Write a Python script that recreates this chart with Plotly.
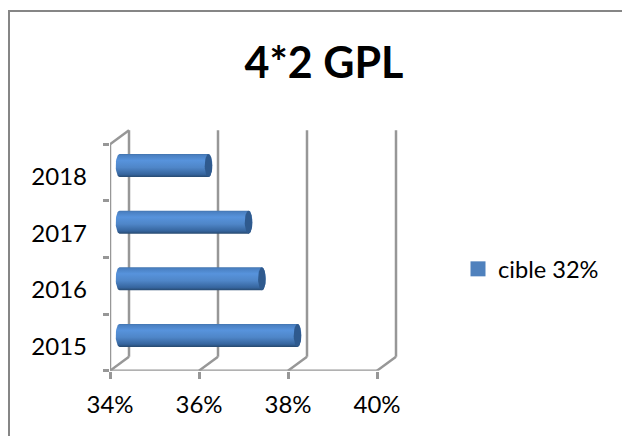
import numpy as np
import plotly.graph_objects as go

# Chart data
years = ["2015", "2016", "2017", "2018"]
values = [38.0, 37.2, 36.9, 36.0]
x_ticks = [34, 36, 38, 40]
x_tick_labels = ["34%", "36%", "38%", "40%"]
series_name = "cible 32%"
title_text = "4*2 GPL"

WIDTH, HEIGHT = 622, 436
FONT = "Lato"
TEXT = "#000000"
GRID = "#979797"
BORDER = "#868686"

# Plot box in pixels, large enough to hold the receding back wall
LEFT, RIGHT, TOP, FLOOR = 110.0, 400.0, 120.0, 370.7
PX_PER_PCT = 44.5
BAND_PX = 56.6
DEPTH_X = 19.0 / PX_PER_PCT
DEPTH_Y = 14.0 / BAND_PX
x_low = x_ticks[0]
x_high = x_low + (RIGHT - LEFT) / PX_PER_PCT
y_low = -0.5
y_high = y_low + (FLOOR - TOP) / BAND_PX
y_wall_top = y_low + len(years)

BAR_HALF = 11.5 / BAND_PX
CAP_RX = 3.8 / PX_PER_PCT
BAR_SHIFT_X = DEPTH_X / 2
BAR_SHIFT_Y = DEPTH_Y / 2

fig = go.Figure()


def line(xs, ys, width=2.5):
    fig.add_trace(go.Scatter(x=xs, y=ys, mode="lines", showlegend=False, hoverinfo="skip",
                             line=dict(color=GRID, width=width)))


# Back wall gridlines, floor edges and the side wall
for t in x_ticks:
    line([t + DEPTH_X, t + DEPTH_X], [y_low + DEPTH_Y, y_wall_top + DEPTH_Y])
    line([t, t + DEPTH_X], [y_low, y_low + DEPTH_Y])
line([x_ticks[0], x_ticks[-1]], [y_low, y_low])
line([x_ticks[0], x_ticks[0]], [y_low, y_wall_top])
line([x_ticks[0], x_ticks[0] + DEPTH_X], [y_wall_top, y_wall_top + DEPTH_Y])

# Cylinders: a shaded body with a rounded far end and a dark end cap
angles = np.linspace(-np.pi / 2, np.pi / 2, 25)
shade = [[0.0, "#26496f"], [0.12, "#36659e"], [0.42, "#4f86c8"], [0.72, "#5793dc"],
         [0.94, "#4a80c2"], [1.0, "#4274ae"]]
for i, v in enumerate(values):
    x0 = x_low + BAR_SHIFT_X
    x1 = v + BAR_SHIFT_X
    yc = i + BAR_SHIFT_Y
    right_x = x1 + CAP_RX * np.cos(angles)
    right_y = yc + BAR_HALF * np.sin(angles)
    left_x = x0 - CAP_RX * np.cos(angles[::-1])
    left_y = yc + BAR_HALF * np.sin(angles[::-1])
    fig.add_trace(go.Scatter(
        x=np.r_[right_x, left_x], y=np.r_[right_y, left_y], mode="lines", fill="toself",
        line=dict(width=0), showlegend=False, hoverinfo="skip",
        fillgradient=dict(type="vertical", colorscale=shade),
    ))
    ring = np.linspace(0, 2 * np.pi, 40)
    fig.add_trace(go.Scatter(
        x=x1 + CAP_RX * np.cos(ring), y=yc + BAR_HALF * np.sin(ring), mode="lines", fill="toself",
        fillcolor="#2f5a8e", line=dict(width=0), showlegend=False, hoverinfo="skip",
    ))

# Legend entry for the series
fig.add_trace(go.Scatter(x=[None], y=[None], mode="markers", name=series_name,
                         marker=dict(symbol="square", size=15, color="#4f81bd")))

# Outer chart frame: only the top and left edges are visible
fig.add_shape(type="path", xref="paper", yref="paper",
              path=f"M {9/WIDTH} 0 L {9/WIDTH} {1-11/HEIGHT} L 1 {1-11/HEIGHT}",
              line=dict(color=BORDER, width=2))

fig.update_layout(
    width=WIDTH, height=HEIGHT, autosize=False,
    margin=dict(l=0, r=0, t=0, b=0, autoexpand=False),
    paper_bgcolor="white", plot_bgcolor="white",
    font=dict(family=FONT, color=TEXT, size=24),
    title=dict(text=f"<b>{title_text}</b>", x=324 / WIDTH, xanchor="center",
               y=1 - 63 / HEIGHT, yanchor="middle", automargin=False,
               font=dict(size=43, family=FONT, color=TEXT)),
    showlegend=True,
    legend=dict(x=458 / WIDTH, y=1 - 269 / HEIGHT, xanchor="left", yanchor="middle",
                font=dict(size=23.6, family=FONT), bgcolor="rgba(0,0,0,0)"),
    xaxis=dict(domain=[LEFT / WIDTH, RIGHT / WIDTH], range=[x_low, x_high], automargin=False,
               tickmode="array", tickvals=x_ticks, ticktext=x_tick_labels,
               ticks="outside", ticklen=7, tickwidth=2.5, tickcolor=GRID, ticklabelstandoff=5,
               showgrid=False, zeroline=False, showline=False, fixedrange=True),
    yaxis=dict(domain=[1 - FLOOR / HEIGHT, 1 - TOP / HEIGHT], range=[y_low, y_high], automargin=False,
               tickmode="array", tickvals=list(range(len(years))), ticktext=years,
               ticks="", ticklabelstandoff=22, ticklabelshift=4,
               minor=dict(tickmode="array", tickvals=[k - 0.5 for k in range(len(years) + 1)],
                          ticks="outside", ticklen=6, tickwidth=2.5, tickcolor=GRID, showgrid=False),
               showgrid=False, zeroline=False, showline=False, fixedrange=True),
)

fig.write_html("out.html")
